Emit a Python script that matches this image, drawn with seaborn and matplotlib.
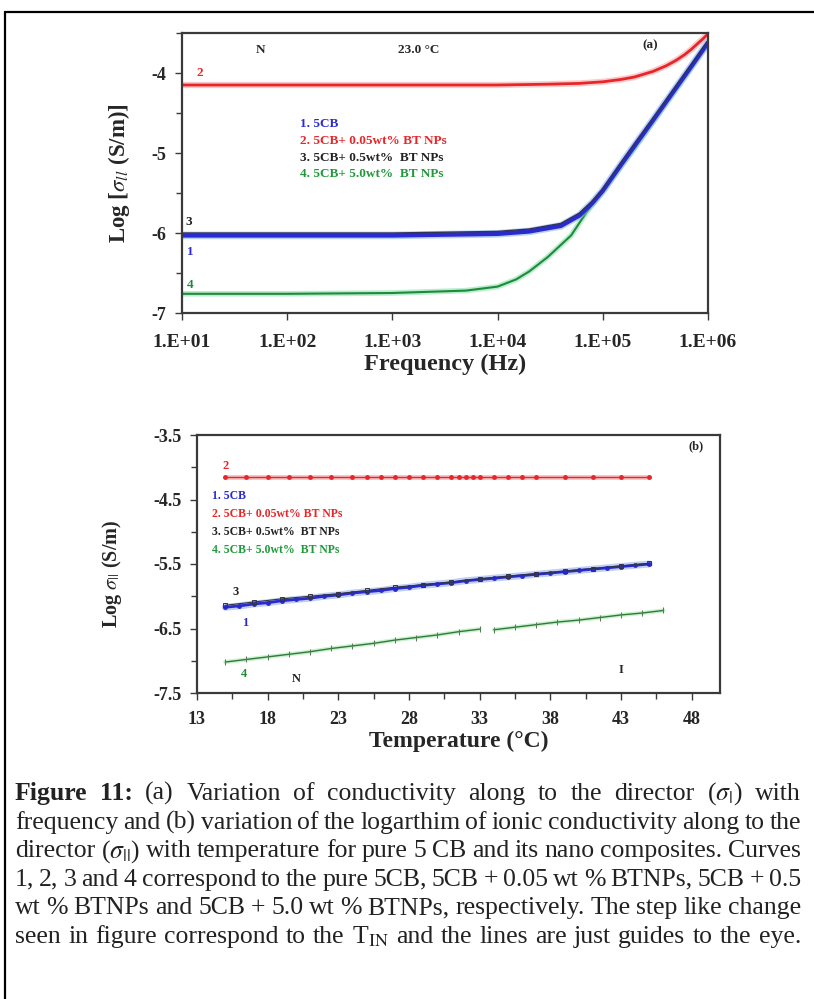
import matplotlib
matplotlib.use('Agg')
import matplotlib.pyplot as plt
from matplotlib.lines import Line2D
from matplotlib.ticker import MultipleLocator, AutoMinorLocator
import pandas as pd
import seaborn as sns

# ---- panel (a): log conductivity vs frequency, 23.0 C ----
freq_red = [10, 100, 1000, 10000, 30000, 60000, 100000, 150000, 200000,
            300000, 400000, 500000, 600000, 700000, 800000, 900000, 1000000]
sig_red = [-4.15, -4.15, -4.15, -4.15, -4.14, -4.13, -4.11, -4.08, -4.05,
           -3.98, -3.91, -3.84, -3.77, -3.70, -3.63, -3.57, -3.51]

freq_blue = [10, 100, 1000, 10000, 20000, 40000, 60000, 80000, 100000,
             150000, 200000, 300000, 500000, 700000, 1000000]
sig_blue = [-6.03, -6.03, -6.03, -6.01, -5.98, -5.91, -5.78, -5.62, -5.47,
            -5.14, -4.91, -4.59, -4.18, -3.91, -3.62]
sig_black = [-6.00, -6.00, -6.00, -5.98, -5.95, -5.88, -5.75, -5.60, -5.45,
             -5.12, -4.89, -4.57, -4.16, -3.89, -3.60]

freq_green = [10, 100, 1000, 5000, 10000, 15000, 20000, 30000, 50000, 70000,
              100000, 150000, 200000, 300000, 500000, 700000, 1000000]
sig_green = [-6.76, -6.76, -6.75, -6.72, -6.67, -6.58, -6.48, -6.30, -6.03,
             -5.74, -5.48, -5.16, -4.94, -4.61, -4.19, -3.92, -3.63]

freq_ticks = [1e1, 1e2, 1e3, 1e4, 1e5, 1e6]
freq_labels = ['1.E+01', '1.E+02', '1.E+03', '1.E+04', '1.E+05', '1.E+06']

# ---- panel (b): log conductivity vs temperature ----
temp_red = [15, 16.5, 18, 19.5, 21, 22.5, 24, 25, 26, 27, 28, 29, 30, 31, 31.5,
            32, 32.5, 33, 34, 35, 36, 37, 39, 41, 43, 45]
sig_red_b = [-4.15, -4.15, -4.15, -4.15, -4.15, -4.15, -4.15, -4.15, -4.15,
             -4.15, -4.15, -4.15, -4.15, -4.15, -4.15, -4.15, -4.15, -4.15,
             -4.15, -4.15, -4.15, -4.15, -4.15, -4.15, -4.15, -4.15]

temp_blue = [15, 16, 17, 18, 19, 20, 21, 22, 23, 24, 25, 26, 27, 28, 29, 30,
             31, 32, 33, 34, 35, 36, 37, 38, 39, 40, 41, 42, 43, 44, 45]
sig_blue_b = [-6.17, -6.15, -6.12, -6.10, -6.07, -6.05, -6.03, -6.00, -5.98,
              -5.95, -5.93, -5.91, -5.88, -5.86, -5.83, -5.81, -5.79, -5.76,
              -5.74, -5.72, -5.70, -5.68, -5.66, -5.64, -5.62, -5.60, -5.58,
              -5.56, -5.54, -5.52, -5.50]

temp_black = [15, 17, 19, 21, 23, 25, 27, 29, 31, 33, 35, 37, 39, 41, 43, 45]
sig_black_b = [-6.14, -6.09, -6.04, -6.00, -5.96, -5.91, -5.86, -5.82, -5.78,
               -5.73, -5.69, -5.65, -5.61, -5.57, -5.53, -5.49]

temp_green = [15, 16.5, 18, 19.5, 21, 22.5, 24, 25.5, 27, 28.5, 30, 31.5, 33,
              34, 35.5, 37, 38.5, 40, 41.5, 43, 44.5, 46]
sig_green_b = [-7.02, -6.98, -6.94, -6.90, -6.86, -6.81, -6.77, -6.73, -6.68,
               -6.64, -6.60, -6.55, -6.51,
               -6.52, -6.48, -6.44, -6.40, -6.37, -6.33, -6.29, -6.26, -6.22]
seg_green = [0] * 13 + [1] * 9

temp_ticks = [13, 18, 23, 28, 33, 38, 43, 48]

legend_items = ['1. 5CB', '2. 5CB+ 0.05wt% BT NPs', '3. 5CB+ 0.5wt%  BT NPs',
                '4. 5CB+ 5.0wt%  BT NPs']
legend_colors = ['#2a2ad0', '#e8262a', '#222222', '#1f9a3a']

caption = [
    [('Figure', True), ('11:', True), ('(a)', False), ('Variation', False), ('of', False),
     ('conductivity', False), ('along', False), ('to', False), ('the', False),
     ('director', False), (r'($\sigma_{|}$)', False), ('with', False)],
    'frequency and (b) variation of the logarthim of ionic conductivity along to the',
    r'director ($\sigma_{||}$) with temperature for pure 5 CB and its nano composites. Curves',
    '1, 2, 3 and 4 correspond to the pure 5CB, 5CB + 0.05 wt % BTNPs, 5CB + 0.5',
    'wt % BTNPs and 5CB + 5.0 wt % BTNPs, respectively. The step like change',
    r'seen in figure correspond to the T$_{\mathrm{IN}}$ and the lines are just guides to the eye.',
]

sns.set_style('ticks')
plt.rcParams['font.family'] = ['Liberation Serif', 'DejaVu Serif']
plt.rcParams['mathtext.fontset'] = 'stix'
plt.rcParams['axes.unicode_minus'] = False

W, H = 814, 999
fig = plt.figure(figsize=(W / 100, H / 100), dpi=100)
spine_c = '#3a3a3a'


def style_axes(ax):
    for s in ax.spines.values():
        s.set_visible(True)
        s.set_color(spine_c)
        s.set_linewidth(1.6)
    ax.tick_params(which='both', direction='out', color=spine_c, width=1.0)
    ax.tick_params(which='major', length=5)
    ax.tick_params(which='minor', length=4)


def halo_line(ax, x, y, dark, pale, lw=1.6, halo=4.5, **kw):
    sns.lineplot(x=x, y=y, ax=ax, color=pale, linewidth=halo, alpha=0.55, **kw)
    sns.lineplot(x=x, y=y, ax=ax, color=dark, linewidth=lw, **kw)


# ---------------- panel (a) ----------------
ax1 = fig.add_axes([182 / W, 1 - 313 / H, 526 / W, 280 / H])
ax1.set_xscale('log')
halo_line(ax1, freq_red, sig_red, '#e8262a', '#f7a0a0', lw=2.0)
halo_line(ax1, freq_green, sig_green, '#1f8a3a', '#7fe0a8', lw=1.5, halo=4)
halo_line(ax1, freq_blue, sig_blue, '#2a2ad0', '#7fb0e8', lw=3.2, halo=5.5)
sns.lineplot(x=freq_blue, y=sig_black, ax=ax1, color='#333355', linewidth=1.0)
ax1.set_xlim(10, 1e6)
ax1.set_ylim(-7, -3.5)
ax1.set_xticks(freq_ticks, labels=freq_labels)
ax1.xaxis.set_minor_locator(plt.NullLocator())
ax1.set_yticks([-7, -6, -5, -4])
ax1.yaxis.set_minor_locator(MultipleLocator(0.5))
style_axes(ax1)
ax1.tick_params(axis='x', labelsize=14, pad=10)
ax1.tick_params(axis='y', labelsize=13, pad=6)
for lab in ax1.get_xticklabels() + ax1.get_yticklabels():
    lab.set_fontweight('bold')
ax1.set_xlabel('Frequency (Hz)', fontsize=17.5, fontweight='bold', labelpad=2)
ax1.set_ylabel(r'Log [$\sigma_{ll}$ (S/m)]', fontsize=16.5, fontweight='bold')
ax1.yaxis.set_label_coords(-0.095, 0.5)

tk = dict(transform=ax1.transAxes, fontweight='bold', fontsize=9.5)
ax1.text(0.15, 0.94, 'N', ha='center', va='center', **tk)
ax1.text(0.45, 0.94, '23.0 °C', ha='center', va='center', **tk)
ax1.text(0.89, 0.955, '(a)', ha='center', va='center', **tk)
ax1.text(0.033, 0.857, '2', color='#e8262a', ha='center', va='center', **tk)
ax1.text(0.012, 0.325, '3', color='#222222', ha='center', va='center', **tk)
ax1.text(0.016, 0.218, '1', color='#2a2ad0', ha='center', va='center', **tk)
ax1.text(0.016, 0.1, '4', color='#1f8a3a', ha='center', va='center', **tk)
for i, (txt, c) in enumerate(zip(legend_items, legend_colors)):
    ax1.text(0.225, 0.675 - i * 0.06, txt, color=c, ha='left', va='center',
             transform=ax1.transAxes, fontweight='bold', fontsize=9.5)

# ---------------- panel (b) ----------------
ax2 = fig.add_axes([197 / W, 1 - 693 / H, 523 / W, 258 / H])
sns.lineplot(x=temp_red, y=sig_red_b, ax=ax2, color='#f39a9a', linewidth=3.5, alpha=0.6)
sns.lineplot(x=temp_red, y=sig_red_b, ax=ax2, color='#e8262a', linewidth=1.0,
             marker='o', markersize=3.5, markeredgewidth=0)
df_green = pd.DataFrame({'T': temp_green, 's': sig_green_b, 'seg': seg_green})
sns.lineplot(data=df_green, x='T', y='s', units='seg', estimator=None, ax=ax2,
             color='#a8e8b0', linewidth=3, alpha=0.6)
sns.lineplot(data=df_green, x='T', y='s', units='seg', estimator=None, ax=ax2,
             color='#2f7a3a', linewidth=1.0, marker='|', markersize=4,
             markeredgecolor='#5a7a5a')
sns.lineplot(x=temp_blue, y=sig_blue_b, ax=ax2, color='#8aa8e8', linewidth=5, alpha=0.55)
sns.lineplot(x=temp_blue, y=sig_blue_b, ax=ax2, color='#2a2ad0', linewidth=2,
             marker='o', markersize=3.5, markeredgewidth=0)
sns.lineplot(x=temp_black, y=sig_black_b, ax=ax2, color='#333344', linewidth=0.8,
             marker='s', markersize=3.5, markerfacecolor='none',
             markeredgecolor='#333344', markeredgewidth=0.7)
ax2.set_xlim(13, 50)
ax2.set_ylim(-7.5, -3.5)
ax2.set_xticks(temp_ticks)
ax2.xaxis.set_minor_locator(AutoMinorLocator(2))
ax2.set_yticks([-7.5, -6.5, -5.5, -4.5, -3.5])
ax2.yaxis.set_minor_locator(MultipleLocator(0.5))
style_axes(ax2)
ax2.tick_params(axis='x', labelsize=13, pad=8)
ax2.tick_params(axis='y', labelsize=13, pad=6)
for lab in ax2.get_xticklabels() + ax2.get_yticklabels():
    lab.set_fontweight('bold')
ax2.set_xlabel('Temperature (°C)', fontsize=17, fontweight='bold', labelpad=2)
ax2.set_ylabel(r'Log $\sigma_{||}$ (S/m)', fontsize=14.5, fontweight='bold')
ax2.yaxis.set_label_coords(-0.14, 0.46)

tk = dict(transform=ax2.transAxes, fontweight='bold', fontsize=9)
ax2.text(0.955, 0.955, '(b)', ha='center', va='center', **tk)
ax2.text(0.055, 0.88, '2', color='#e8262a', ha='center', va='center', **tk)
ax2.text(0.073, 0.39, '3', color='#222222', ha='center', va='center', **tk)
ax2.text(0.092, 0.27, '1', color='#2a2ad0', ha='center', va='center', **tk)
ax2.text(0.09, 0.075, '4', color='#1f8a3a', ha='center', va='center', **tk)
ax2.text(0.19, 0.055, 'N', ha='center', va='center', **tk)
ax2.text(0.81, 0.09, 'I', ha='center', va='center', **tk)
for i, (txt, c) in enumerate(zip(legend_items, legend_colors)):
    ax2.text(0.028, 0.765 - i * 0.07, txt, color=c, ha='left', va='center',
             transform=ax2.transAxes, fontweight='bold', fontsize=8.5)

# ---------------- outer frame ----------------
fig.add_artist(Line2D([5 / W, 5 / W], [0, 1 - 12 / H], color='black', lw=1.6,
                      transform=fig.transFigure))
fig.add_artist(Line2D([5 / W, 1], [1 - 12 / H, 1 - 12 / H], color='black', lw=1.6,
                      transform=fig.transFigure))

# ---------------- caption, justified ----------------
renderer = fig.canvas.get_renderer()
x0, x1 = 15, 801
cap_size = 18.5
for li, line in enumerate(caption):
    if isinstance(line, str):
        words = [(w, False) for w in line.split()]
    else:
        words = line
    y = 1 - (800 + li * 28.6) / H
    objs = []
    total = 0
    for w, b in words:
        t = fig.text(0, y, w, fontsize=cap_size, fontweight='bold' if b else 'normal',
                     va='baseline', ha='left', color='#222222')
        wpx = t.get_window_extent(renderer).width
        objs.append((t, wpx))
        total += wpx
    gap = (x1 - x0 - total) / max(len(objs) - 1, 1)
    xp = x0
    for t, wpx in objs:
        t.set_x(xp / W)
        xp += wpx + gap

fig.savefig('out.png', dpi=100)
